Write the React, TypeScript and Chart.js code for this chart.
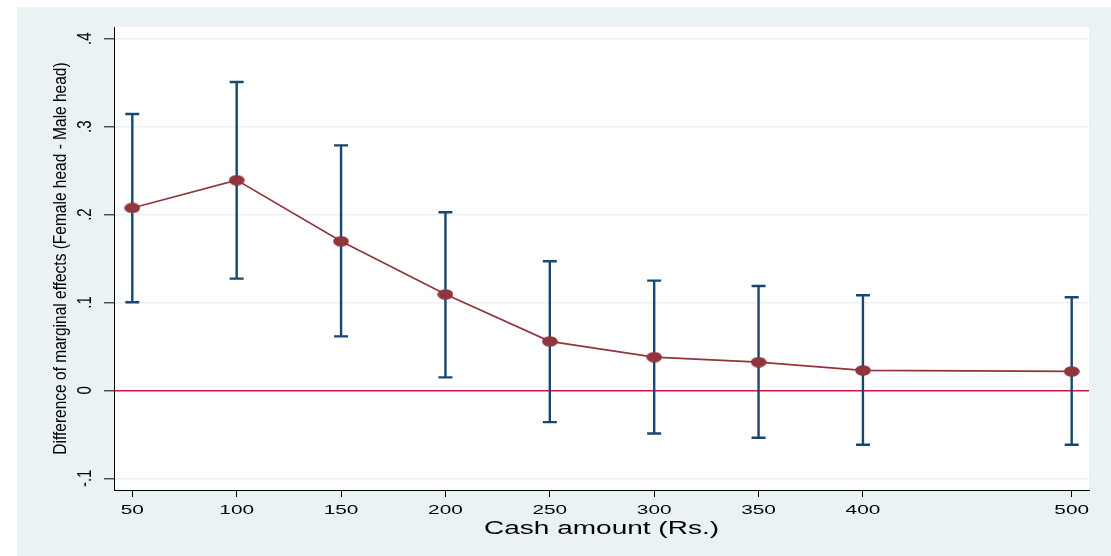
import React, { useEffect, useRef } from 'react';
import { Chart, registerables, LinearScale } from 'chart.js';

// ---------- data ----------
const cashAmounts = [50, 100, 150, 200, 250, 300, 350, 400, 500];
const marginalDiff = [0.2076, 0.2392, 0.1697, 0.1093, 0.0558, 0.0379, 0.0322, 0.0228, 0.0216];
const ciUpper = [0.3144, 0.3508, 0.2787, 0.2027, 0.1469, 0.1249, 0.1188, 0.1082, 0.1059];
const ciLower = [0.1002, 0.1272, 0.0615, 0.0148, -0.0361, -0.049, -0.0539, -0.0618, -0.0618];
const xTickValues = [50, 100, 150, 200, 250, 300, 350, 400, 500];
const yTickValues = [-0.1, 0, 0.1, 0.2, 0.3, 0.4];
const yTickLabels = ['-.1', '0', '.1', '.2', '.3', '.4'];
const xTitle = 'Cash amount (Rs.)';
const yTitle = 'Difference of marginal effects (Female head - Male head)';

// ---------- styles ----------
const PANEL_BG = '#EAF2F3';
const GRID = '#EAF2F3';
const ZERO_LINE = '#cc1538';
const BAR_COLOR = '#1a476f';
const LINE_COLOR = '#90353b';
const FONT = '"Liberation Sans", Arial, sans-serif';
const X_STRETCH = 1.6;
const Y_LABEL_STRETCH = 1.3;
const Y_TITLE_STRETCH = 1.15;
const Y_TITLE_SIZE = 15.5;
const Y_TITLE_PAD = 35;

// Linear scale whose labels/title are horizontally stretched (mimics the stretched export)
class StretchLinear extends LinearScale {
  static id = 'stretchLinear';
  labelStretch() {
    return this.id === 'x' ? X_STRETCH : Y_LABEL_STRETCH;
  }
  titleStretch() {
    return this.id === 'x' ? X_STRETCH : Y_TITLE_STRETCH;
  }
  titleCenterX() {
    if (this.id === 'x') return (this.left + this.right) / 2;
    return this.left + (Y_TITLE_SIZE * 1.2) / 2 + Y_TITLE_PAD;
  }
  getLabelItems(area?: any) {
    const items = (super.getLabelItems as any).call(this, area);
    const s = this.labelStretch();
    if (s === 1) return items;
    return items.map((it: any) => ({
      ...it,
      options: {
        ...it.options,
        translation: [it.options.translation[0] / s, it.options.translation[1]],
      },
    }));
  }
  drawLabels(area: any) {
    const s = this.labelStretch();
    const ctx = this.ctx;
    ctx.save();
    ctx.scale(s, 1);
    (super.drawLabels as any).call(this, area);
    ctx.restore();
  }
  drawTitle() {
    const s = this.titleStretch();
    const ctx = this.ctx;
    ctx.save();
    const cx = this.titleCenterX();
    ctx.translate(cx, 0);
    ctx.scale(s, 1);
    ctx.translate(-cx, 0);
    (super.drawTitle as any).call(this);
    ctx.restore();
  }
}

Chart.register(...registerables, StretchLinear);

const backgroundPlugin = {
  id: 'panelBackground',
  beforeDraw(chart: any) {
    const { ctx, width, height, chartArea } = chart;
    ctx.save();
    ctx.fillStyle = '#ffffff';
    ctx.fillRect(0, 0, width, height);
    ctx.fillStyle = PANEL_BG;
    ctx.fillRect(17, 7, width - 17, height - 7);
    ctx.fillStyle = '#ffffff';
    ctx.fillRect(chartArea.left, chartArea.top, chartArea.right - chartArea.left, chartArea.bottom - chartArea.top);
    ctx.restore();
  },
};

const errorBarPlugin = {
  id: 'errorBars',
  beforeDatasetsDraw(chart: any) {
    const { ctx, scales } = chart;
    const xs = scales.x;
    const ys = scales.y;
    ctx.save();
    ctx.strokeStyle = BAR_COLOR;
    ctx.lineWidth = 2.4;
    ctx.lineCap = 'butt';
    cashAmounts.forEach((c, i) => {
      const px = xs.getPixelForValue(c);
      const top = ys.getPixelForValue(ciUpper[i]);
      const bot = ys.getPixelForValue(ciLower[i]);
      const cap = 7;
      ctx.beginPath();
      ctx.moveTo(px, top);
      ctx.lineTo(px, bot);
      ctx.moveTo(px - cap, top);
      ctx.lineTo(px + cap, top);
      ctx.moveTo(px - cap, bot);
      ctx.lineTo(px + cap, bot);
      ctx.stroke();
    });
    ctx.restore();
  },
};

function makeMarker(): HTMLCanvasElement {
  const c = document.createElement('canvas');
  c.width = 16;
  c.height = 11;
  const g = c.getContext('2d')!;
  g.fillStyle = LINE_COLOR;
  g.beginPath();
  g.ellipse(8, 5.5, 7.8, 5.3, 0, 0, Math.PI * 2);
  g.fill();
  return c;
}

export default function App() {
  const ref = useRef<HTMLCanvasElement | null>(null);

  useEffect(() => {
    document.body.style.margin = '0';
    document.body.style.overflow = 'hidden';
    const canvas = ref.current;
    if (!canvas) return;
    const marker = makeMarker();

    const chart = new Chart(canvas, {
      type: 'line',
      data: {
        datasets: [
          {
            data: cashAmounts.map((c, i) => ({ x: c, y: marginalDiff[i] })),
            borderColor: LINE_COLOR,
            backgroundColor: LINE_COLOR,
            borderWidth: 1.6,
            tension: 0,
            pointStyle: marker as any,
            pointRadius: 6,
            fill: false,
          },
        ],
      },
      options: {
        responsive: false,
        animation: false,
        devicePixelRatio: 1,
        layout: { padding: { left: 17, top: 27, right: 22, bottom: 0 } },
        plugins: {
          legend: { display: false },
          tooltip: { enabled: false },
        },
        scales: {
          x: {
            type: 'stretchLinear' as any,
            position: 'bottom',
            min: 41.23,
            max: 508.29,
            afterBuildTicks: (scale: any) => {
              scale.ticks = xTickValues.map((v) => ({ value: v }));
            },
            afterFit: (scale: any) => {
              scale.height = 66;
            },
            grid: {
              display: true,
              drawOnChartArea: false,
              drawTicks: true,
              tickLength: 7,
              tickColor: '#000',
              tickWidth: 1,
            },
            border: { display: true, color: '#000', width: 1 },
            ticks: {
              autoSkip: false,
              maxRotation: 0,
              minRotation: 0,
              padding: 6,
              color: '#000',
              font: { family: FONT, size: 13 },
              callback: (v: any) => String(v),
            },
            title: {
              display: true,
              text: xTitle,
              color: '#000',
              font: { family: FONT, size: 17.5 },
              padding: { top: 0, bottom: 16.5 },
            },
          } as any,
          y: {
            type: 'stretchLinear' as any,
            position: 'left',
            min: -0.1133,
            max: 0.4134,
            afterBuildTicks: (scale: any) => {
              scale.ticks = yTickValues.map((v) => ({ value: v }));
            },
            afterFit: (scale: any) => {
              scale.width = 97;
            },
            grid: {
              display: true,
              drawOnChartArea: true,
              drawTicks: true,
              tickLength: 10,
              tickColor: '#000',
              tickWidth: 1,
              color: (ctx: any) => (ctx.tick && Math.abs(ctx.tick.value) < 1e-9 ? ZERO_LINE : GRID),
              lineWidth: 1.6,
            },
            border: { display: true, color: '#000', width: 1 },
            ticks: {
              minRotation: 90,
              maxRotation: 90,
              crossAlign: 'center',
              padding: 10,
              color: '#000',
              font: { family: FONT, size: 15 },
              callback: (v: any) => {
                const idx = yTickValues.findIndex((t) => Math.abs(t - Number(v)) < 1e-9);
                return idx >= 0 ? yTickLabels[idx] : '';
              },
            },
            title: {
              display: true,
              text: yTitle,
              color: '#000',
              font: { family: FONT, size: Y_TITLE_SIZE },
              padding: { top: Y_TITLE_PAD, bottom: 0 },
            },
          } as any,
        },
      },
      plugins: [backgroundPlugin, errorBarPlugin],
    });

    return () => {
      chart.destroy();
    };
  }, []);

  return (
    <canvas
      ref={ref}
      width={1111}
      height={556}
      style={{ display: 'block', width: '1111px', height: '556px' }}
    />
  );
}
